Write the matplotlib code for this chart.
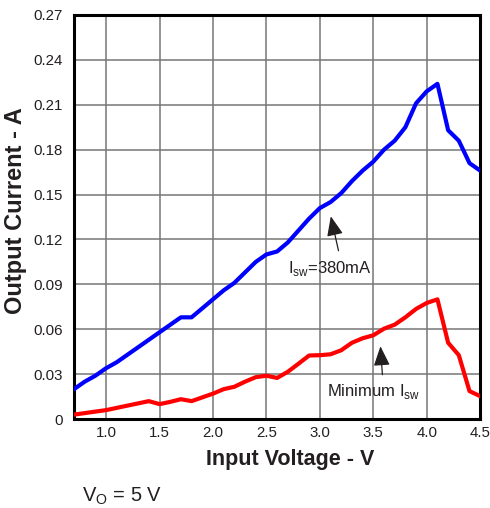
import matplotlib
matplotlib.use("Agg")
import matplotlib.pyplot as plt

plt.rcParams['font.family'] = ['Liberation Sans', 'DejaVu Sans']

vin = [0.7, 0.8, 0.9, 1.0, 1.1, 1.2, 1.3, 1.4, 1.5, 1.6, 1.7, 1.8, 1.9, 2.0,
       2.1, 2.2, 2.3, 2.4, 2.5, 2.6, 2.7, 2.8, 2.9, 3.0, 3.1, 3.2, 3.3, 3.4,
       3.5, 3.6, 3.7, 3.8, 3.9, 4.0, 4.1, 4.2, 4.3, 4.4, 4.5]
i_380 = [0.020, 0.025, 0.029, 0.034, 0.038, 0.043, 0.048, 0.053, 0.058, 0.063,
         0.068, 0.068, 0.074, 0.080, 0.086, 0.091, 0.098, 0.105, 0.110, 0.112,
         0.118, 0.126, 0.134, 0.141, 0.145, 0.151, 0.159, 0.166, 0.172, 0.180,
         0.186, 0.195, 0.211, 0.219, 0.224, 0.193, 0.186, 0.171, 0.166]
i_min = [0.003, 0.004, 0.005, 0.006, 0.0075, 0.009, 0.0105, 0.012, 0.010, 0.0115,
         0.0133, 0.012, 0.0145, 0.017, 0.020, 0.0216, 0.025, 0.028, 0.029, 0.0275,
         0.0316, 0.037, 0.0425, 0.0427, 0.0433, 0.046, 0.051, 0.054, 0.056, 0.0604,
         0.0631, 0.068, 0.0736, 0.0776, 0.080, 0.051, 0.0427, 0.0187, 0.0153]

xticks = [1.0, 1.5, 2.0, 2.5, 3.0, 3.5, 4.0, 4.5]
xticklabels = ['1.0', '1.5', '2.0', '2.5', '3.0', '3.5', '4.0', '4.5']
yticks = [0, 0.03, 0.06, 0.09, 0.12, 0.15, 0.18, 0.21, 0.24, 0.27]
yticklabels = ['0', '0.03', '0.06', '0.09', '0.12', '0.15', '0.18', '0.21', '0.24', '0.27']

fig = plt.figure(figsize=(4.90, 5.08), dpi=100)
ax = fig.add_axes([0.151, 0.175, 0.829, 0.7955])

ax.plot(vin, i_380, color='#0000ff', lw=3, solid_joinstyle='round', zorder=3)
ax.plot(vin, i_min, color='#ff0000', lw=3, solid_joinstyle='round', zorder=3)

ax.set_xlim(0.7, 4.5)
ax.set_ylim(0, 0.27)
ax.set_xticks(xticks)
ax.set_xticklabels(xticklabels)
ax.set_yticks(yticks)
ax.set_yticklabels(yticklabels)
ax.tick_params(length=0, labelsize=10.8, colors='#231f20')
ax.tick_params(axis='y', pad=8)
ax.tick_params(axis='x', pad=5)
ax.grid(True, color='#777777', lw=1.1)
ax.set_axisbelow(True)
for s in ax.spines.values():
    s.set_linewidth(2.2)
    s.set_color('black')

ax.set_xlabel('Input Voltage - V', fontsize=15.5, fontweight='bold', color='#231f20')
ax.set_ylabel('Output Current - A', fontsize=17, fontweight='bold', color='#231f20')
ax.xaxis.set_label_coords(0.531, -0.1, transform=ax.transAxes)
ax.yaxis.set_label_coords(-0.145, 0.516, transform=ax.transAxes)
ax.xaxis.label.set_va('center')
ax.yaxis.label.set_va('center')

arrowprops = dict(arrowstyle='-|>,head_length=1.2,head_width=0.5', color='#231f20', lw=0.9)
ax.annotate('', xy=(3.097, 0.1373), xytext=(3.18, 0.1107), arrowprops=arrowprops)
ax.text(2.70, 0.1005, r'I$_{\mathregular{sw}}$=380mA', fontsize=12, color='#231f20', va='center', ha='left')
ax.annotate('', xy=(3.565, 0.0505), xytext=(3.587, 0.0278), arrowprops=arrowprops)
ax.text(3.07, 0.0185, r'Minimum I$_{\mathregular{sw}}$', fontsize=12, color='#231f20', va='center', ha='left')

fig.text(0.168, 0.023, r'V$_{\mathregular{O}}$ = 5 V', fontsize=14.5, color='#231f20', va='center', ha='left')

fig.savefig('out.png', dpi=100)
